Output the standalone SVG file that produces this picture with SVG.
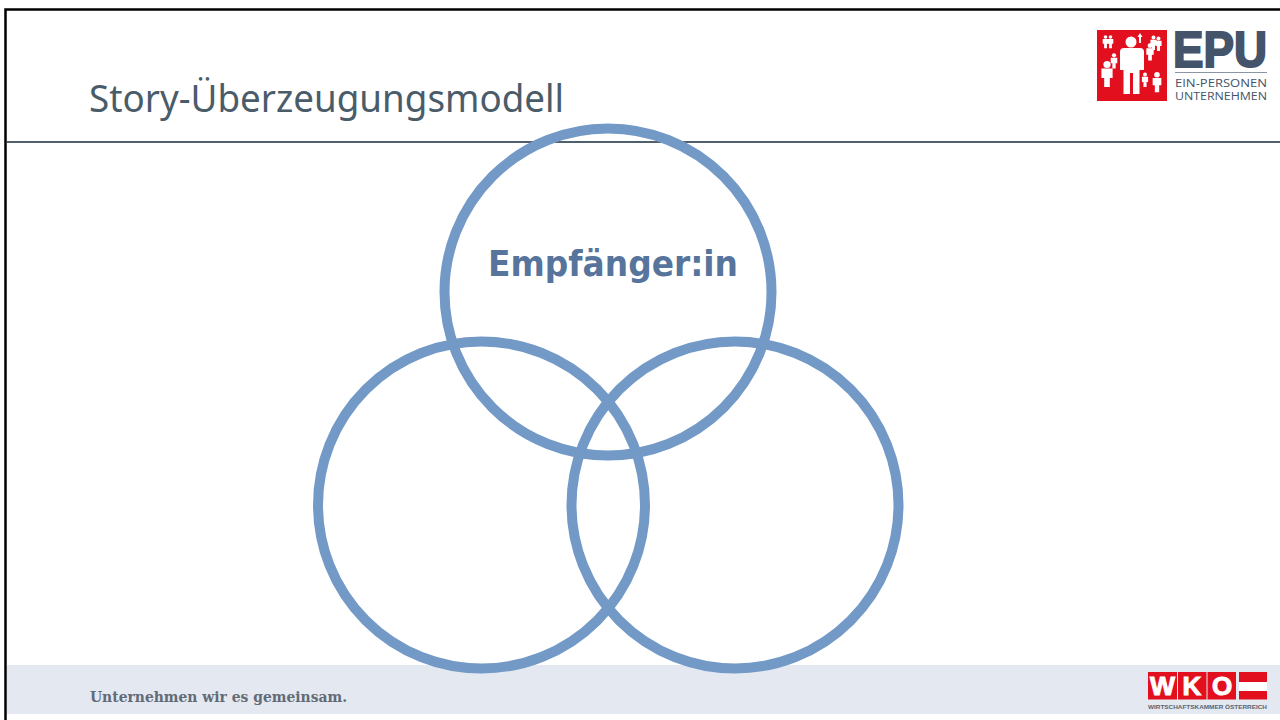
<svg xmlns="http://www.w3.org/2000/svg" width="1280" height="720" viewBox="0 0 1280 720">
<style>
.c{fill:none;stroke:#7399c6;stroke-width:10}
.w{fill:#fff}
.lg{font-family:"Open Sans","Liberation Sans",sans-serif;fill:#44546a}
</style>
<defs>
<g id="p"><circle cx="0" cy="-10" r="4.500"/><path d="M-7-5H7V7H3.500V18H-3.500V7H-7Z"/></g>
</defs>
<rect width="1280" height="720" fill="#fff"/>
<path d="M5.500 720V9.500H1280" fill="none" stroke="#000" stroke-width="2.500"/>
<rect x="7" y="141" width="1273" height="2" fill="#4f5f6d"/>
<text id="title" x="89" y="112" font-family="'Noto Sans','Open Sans',sans-serif" font-size="39" fill="#4a5c6a" textLength="475" lengthAdjust="spacingAndGlyphs">Story-Überzeugungsmodell</text>
<g id="logo-epu">
<rect x="1097" y="30" width="70" height="71" fill="#e2101f"/>
<g class="w">
<circle cx="1131" cy="42" r="5.500"/>
<path d="M1120 52Q1120 48 1124 48H1140Q1144 48 1144 52V70H1139.500V94H1133V73H1130V94H1123.500V70H1120Z"/>
<use href="#p" transform="translate(1105.500 41) scale(.4)"/><use href="#p" transform="translate(1110.500 41) scale(.4)"/>
<use href="#p" transform="translate(1114 60) scale(.47)"/><use href="#p" transform="translate(1107 72.500) scale(.8)"/>
<use href="#p" transform="translate(1150 51) scale(.53)"/><use href="#p" transform="translate(1153.500 42) scale(.44)"/><use href="#p" transform="translate(1158.500 43) scale(.44)"/>
<use href="#p" transform="translate(1145 79) scale(.44)"/><use href="#p" transform="translate(1157 81) scale(.62)"/>
<path d="M1140 33l2.500 4h-1.500v6h-2v-6h-1.500z"/>
</g>
<text x="1173" y="67" font-size="50" font-weight="700" textLength="94" lengthAdjust="spacingAndGlyphs" font-family="'Liberation Sans',sans-serif" fill="#44546a" stroke="#44546a" stroke-width="2">EPU</text>
<rect x="1175" y="72" width="92" height="1" fill="#8a96a3"/>
<text class="lg" x="1175" y="87" font-size="11" textLength="92" lengthAdjust="spacingAndGlyphs">EIN-PERSONEN</text>
<text class="lg" x="1175" y="100" font-size="11" textLength="92" lengthAdjust="spacingAndGlyphs">UNTERNEHMEN</text>
</g>
<g id="footer">
<rect x="7" y="665" width="1273" height="49" fill="#e4e8f0"/>
<text x="90" y="702" font-family="'DejaVu Serif',serif" font-size="15.500" font-weight="700" fill="#626b76" textLength="257" lengthAdjust="spacingAndGlyphs">Unternehmen wir es gemeinsam.</text>
</g>
<g id="circle-top"><circle class="c" cx="608" cy="292" r="163.500"/>
<text x="613" y="276" text-anchor="middle" font-family="'DejaVu Sans',sans-serif" font-size="36" font-weight="700" fill="#56749c" textLength="250" lengthAdjust="spacingAndGlyphs">Empfänger:in</text></g>
<g id="circle-left"><circle class="c" cx="481.500" cy="505" r="163.500"/></g>
<g id="circle-right"><circle class="c" cx="735" cy="505" r="163.500"/></g>
<g id="logo-wko">
<rect x="1148" y="672" width="29" height="27.500" fill="#e2101f"/><rect x="1178" y="672" width="28.500" height="27.500" fill="#e2101f"/><rect x="1207.500" y="672" width="28.500" height="27.500" fill="#e2101f"/>
<rect x="1239" y="672" width="28" height="27.500" fill="#e2101f"/>
<rect x="1239" y="682" width="28" height="9" fill="#fff"/>
<g font-family="'Liberation Sans',sans-serif" font-weight="700" fill="#fff" stroke="#fff" stroke-width="1" font-size="26" text-anchor="middle"><text x="1162.500" y="695" textLength="25" lengthAdjust="spacingAndGlyphs">W</text><text x="1192" y="695">K</text><text x="1222" y="695">O</text></g>
<text x="1148" y="709" font-family="'Liberation Sans',sans-serif" font-weight="700" font-size="5" fill="#5a6470" textLength="119" lengthAdjust="spacingAndGlyphs">WIRTSCHAFTSKAMMER ÖSTERREICH</text>
</g>
</svg>
